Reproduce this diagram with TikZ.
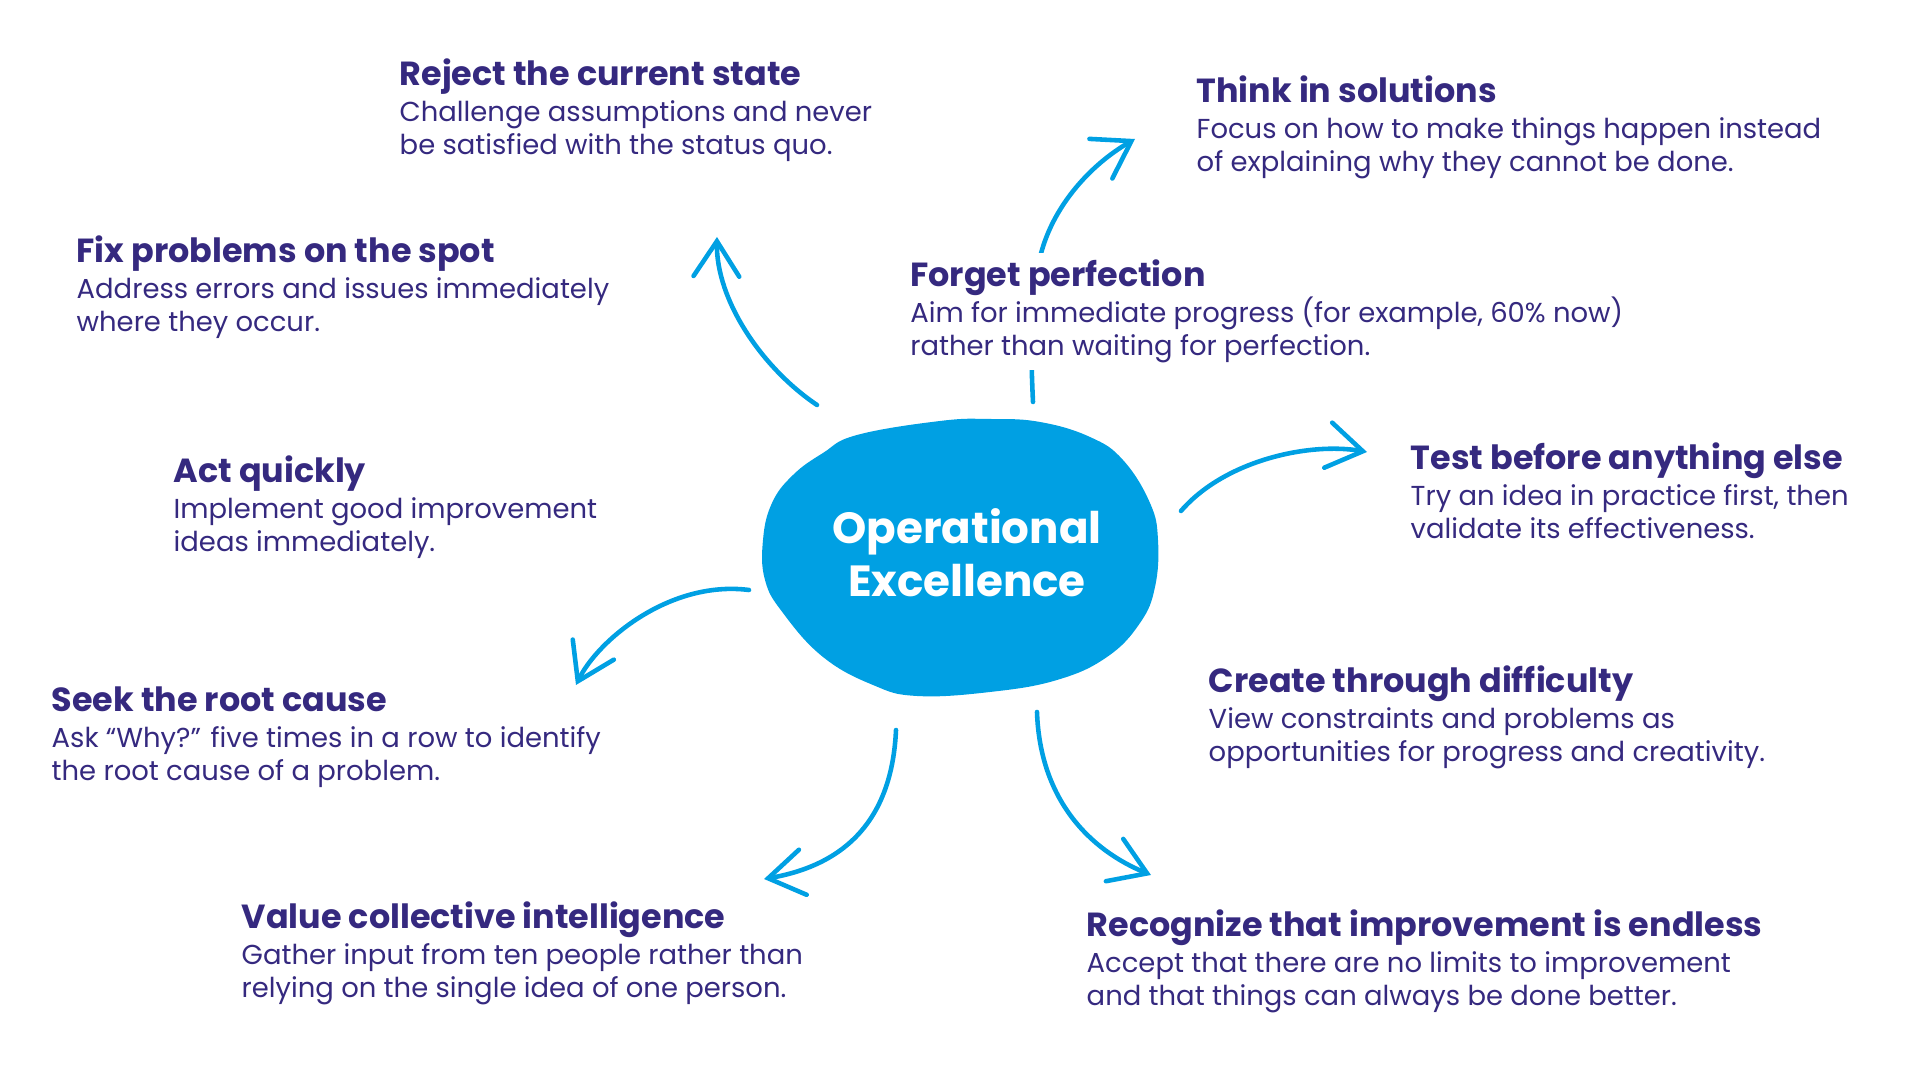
\documentclass[tikz,border=0pt]{standalone}
\usepackage{fontspec}
\setmainfont{Poppins}
\usepackage{xcolor}
\usepackage{tikz}
\usetikzlibrary{arrows.meta, positioning}

\definecolor{oxblue}{HTML}{00A0E3}
\definecolor{oxink}{HTML}{35297F}

\newcommand{\headsize}{\fontsize{9.5}{9.6}\selectfont\bfseries}
\newcommand{\pointsize}{\fontsize{7.8}{9.4}\selectfont\lineskiplimit=-20pt\relax}

\begin{document}
\begin{tikzpicture}[
    x=0.01cm, y=-0.01cm,
    point/.style={anchor=base west, align=left, inner sep=0pt, text=oxink,
        font=\pointsize},
    core/.style={align=center, text=white, font=\fontsize{12.4}{15}\selectfont\bfseries},
    flow/.style={draw=oxblue, line width=1.3pt, line cap=round,
        -{Straight Barb[length=10pt, width=13pt, line cap=round]}}
]
    \useasboundingbox (0,0) rectangle (1920,1080);

    % Blob in the middle
    \fill[oxblue] plot[smooth cycle, tension=0.7] coordinates {
        (857,435) (940,421) (990,419) (1040,422) (1090,437) (1123,460)
        (1150,503) (1158,540) (1155,587) (1140,623) (1107,657) (1057,680)
        (990,692) (917,696) (873,685) (823,657) (783,613) (765,580)
        (763,540) (772,503) (793,475) (823,453)};
    \node[core] (excellence) at (967,553) {Operational\\Excellence};

    % Principles (placed at the baseline of their last line)
    \node[point] (reject) at (399,155) {{\headsize Reject the current state}\\[1pt]Challenge assumptions and never\\be satisfied with the status quo.};
    \node[point] (think) at (1196,172) {{\headsize Think in solutions}\\[1pt]Focus on how to make things happen instead\\of explaining why they cannot be done.};
    \node[point] (fix) at (76,332) {{\headsize Fix problems on the spot}\\[1pt]Address errors and issues immediately\\where they occur.};
    \node[point] (act) at (173,552) {{\headsize Act quickly}\\[1pt]Implement good improvement\\ideas immediately.};
    \node[point] (test) at (1410,539) {{\headsize Test before anything else}\\[1pt]Try an idea in practice first, then\\validate its effectiveness.};
    \node[point] (seek) at (51,781) {{\headsize Seek the root cause}\\[1pt]Ask “Why?” five times in a row to identify\\the root cause of a problem.};
    \node[point] (create) at (1208,762) {{\headsize Create through difficulty}\\[1pt]View constraints and problems as\\opportunities for progress and creativity.};
    \node[point] (value) at (241,998) {{\headsize Value collective intelligence}\\[1pt]Gather input from ten people rather than\\relying on the single idea of one person.};
    \node[point] (recognize) at (1086,1006) {{\headsize Recognize that improvement is endless}\\[1pt]Accept that there are no limits to improvement\\and that things can always be done better.};

    % Arrow ends
    \coordinate (rejectS) at (817,405);
    \coordinate (rejectE) at (717,237);
    \coordinate (thinkS) at (1033,402);
    \coordinate (thinkE) at (1135,139);
    \coordinate (testS) at (1181,511);
    \coordinate (testE) at (1367,452);
    \coordinate (seekS) at (749,590);
    \coordinate (seekE) at (576,685);
    \coordinate (valueS) at (896,730);
    \coordinate (valueE) at (764,879);
    \coordinate (recognizeS) at (1037,712);
    \coordinate (recognizeE) at (1151,875);

    % Arrows
    \draw[flow] (rejectS) .. controls (762,368) and (716,300) .. (rejectE);
    \draw[flow] (thinkS) .. controls (1029,320) and (1033,280) .. (1042,250)
        .. controls (1055,205) and (1090,165) .. (thinkE);
    \draw[flow] (testS) .. controls (1225,460) and (1310,442) .. (testE);
    \draw[flow] (seekS) .. controls (670,580) and (598,640) .. (seekE);
    \draw[flow] (valueS) .. controls (892,820) and (845,865) .. (valueE);
    \draw[flow] (recognizeS) .. controls (1040,800) and (1090,850) .. (recognizeE);

    % Sits over the arrow to the top
    \node[point, fill=white, inner xsep=5pt, inner ysep=2pt] (forget) at (892,356) {{\headsize Forget perfection}\\[1pt]Aim for immediate progress (for example, 60\% now)\\rather than waiting for perfection.};
\end{tikzpicture}
\end{document}
